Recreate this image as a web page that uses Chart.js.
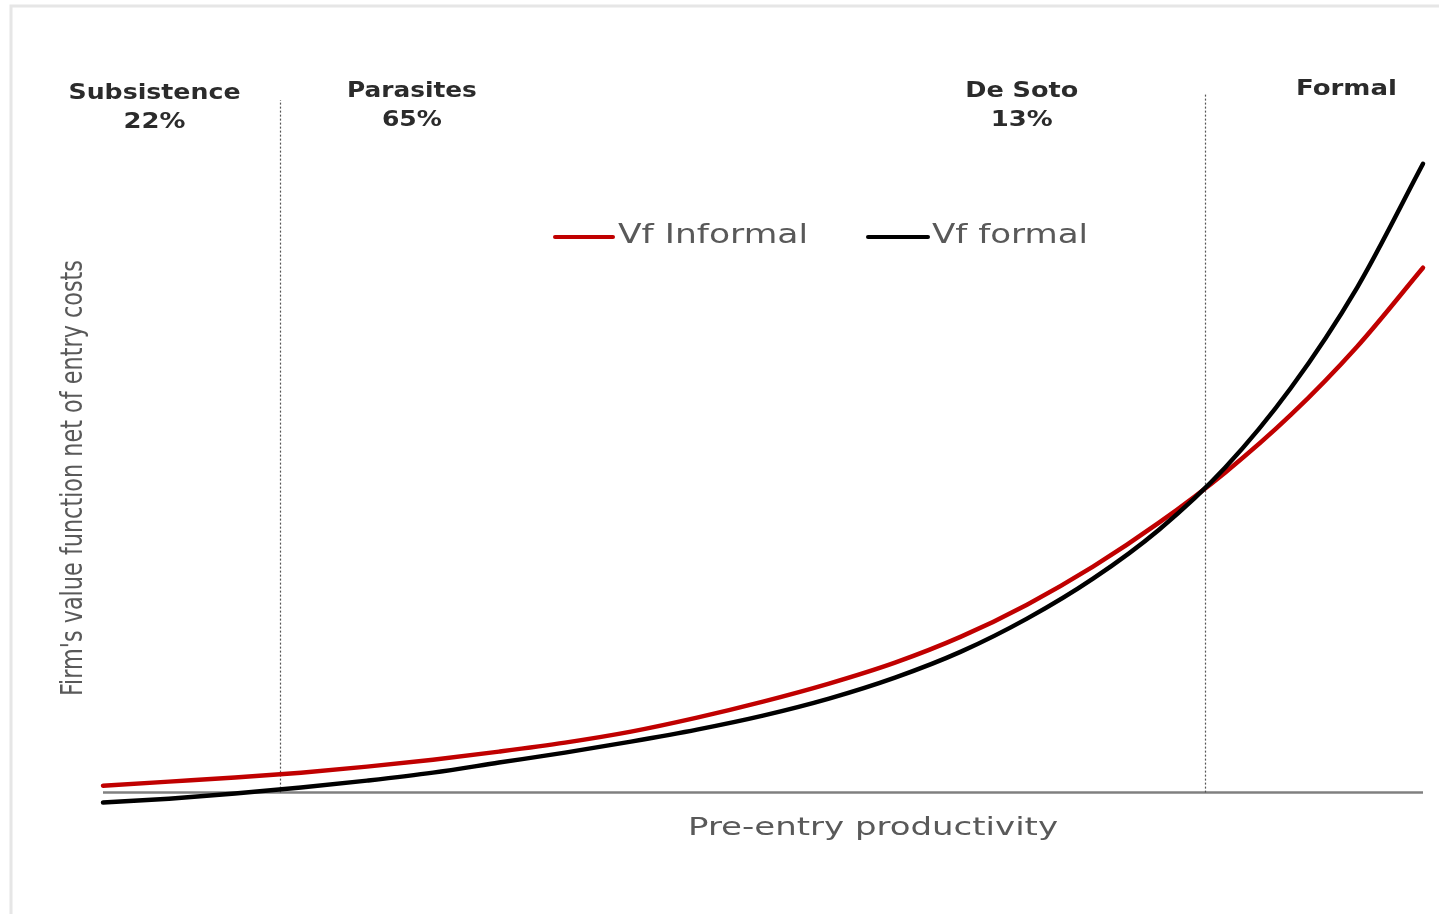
<!DOCTYPE html>
<html>
<head>
<meta charset="utf-8">
<script src="https://cdn.jsdelivr.net/npm/chart.js@4.4.1/dist/chart.umd.min.js"></script>
<style>
  html, body { margin: 0; padding: 0; background: #ffffff; }
  #wrap { position: relative; width: 1439px; height: 914px; }
</style>
</head>
<body>
<div id="wrap"><canvas id="c"></canvas></div>
<script>
// ---- Data ----
const productivity = [0, 5, 10, 15, 20, 25, 30, 35, 40, 45, 50, 55, 60, 65, 70, 75, 80, 85, 90, 95, 100];
const vfInformal   = [1.11, 1.75, 2.39, 3.18, 4.14, 5.25, 6.53, 7.96, 9.71, 11.94, 14.49, 17.36, 20.70, 24.84, 29.94, 35.99, 42.99, 50.96, 60.19, 71.02, 83.60];
const vfFormal     = [-1.59, -0.96, -0.16, 0.80, 1.91, 3.18, 4.78, 6.37, 8.12, 10.03, 12.26, 14.97, 18.31, 22.45, 27.71, 34.08, 41.88, 51.75, 64.49, 80.41, 100.16];
const seriesNames  = ["Vf Informal", "Vf formal"];
const boundaries   = [13.4, 83.5];
const regionNames  = ["Subsistence", "Parasites", "De Soto", "Formal"];
const regionShares = ["22%", "65%", "13%", ""];
const regionCenters = [3.9, 23.4, 69.6, 94.2];
const xTitle = "Pre-entry productivity";
const yTitle = "Firm's value function net of entry costs";

const toPts = (ys) => productivity.map((x, i) => ({ x: x, y: ys[i] }));

function fitText(ctx, text, x, y, width, font, color, align) {
  ctx.save();
  ctx.font = font;
  ctx.fillStyle = color;
  ctx.textBaseline = 'middle';
  const w = ctx.measureText(text).width;
  const s = width / w;
  ctx.translate(x, y);
  ctx.scale(s, 1);
  ctx.textAlign = align || 'center';
  ctx.fillText(text, 0, 0);
  ctx.restore();
}

const decor = {
  id: 'decor',
  beforeDraw(chart) {
    const ctx = chart.ctx;
    ctx.save();
    ctx.fillStyle = '#ffffff';
    ctx.fillRect(0, 0, chart.width, chart.height);
    ctx.strokeStyle = '#e6e6e6';
    ctx.lineWidth = 3;
    ctx.beginPath();
    ctx.moveTo(11, 914); ctx.lineTo(11, 6); ctx.lineTo(1439, 6);
    ctx.stroke();
    ctx.restore();
  },
  beforeDatasetsDraw(chart) {
    const ctx = chart.ctx;
    const xs = chart.scales.x, ys = chart.scales.y;
    const y0 = ys.getPixelForValue(0);
    ctx.save();
    ctx.strokeStyle = '#808080';
    ctx.lineWidth = 2.5;
    ctx.beginPath();
    ctx.moveTo(xs.left, y0); ctx.lineTo(xs.right, y0);
    ctx.stroke();
    const tops = [100, 93];
    ctx.strokeStyle = '#555555';
    ctx.lineWidth = 1.2;
    ctx.setLineDash([2, 2]);
    boundaries.forEach((b, i) => {
      const px = Math.round(xs.getPixelForValue(b)) + 0.5;
      ctx.beginPath();
      ctx.moveTo(px, y0); ctx.lineTo(px, tops[i]);
      ctx.stroke();
    });
    ctx.restore();
  },
  afterDraw(chart) {
    const ctx = chart.ctx;
    const xs = chart.scales.x;
    const nameWidths = [172, 130, 113, 101];
    const shareWidths = [62, 60, 62, 0];
    const nameY = [94, 92, 92, 90];
    regionNames.forEach((n, i) => {
      const cx = xs.getPixelForValue(regionCenters[i]);
      fitText(ctx, n, cx, nameY[i], nameWidths[i], 'bold 21px "DejaVu Sans"', '#2b2b2b');
      if (regionShares[i]) fitText(ctx, regionShares[i], cx, nameY[i] + 29, shareWidths[i], 'bold 21px "DejaVu Sans"', '#2b2b2b');
    });
    const ds = chart.data.datasets;
    const leg = [{ x0: 555, x1: 613, tx: 618, tw: 190 }, { x0: 868, x1: 928, tx: 932, tw: 156 }];
    leg.forEach((l, i) => {
      ctx.save();
      ctx.strokeStyle = ds[i].borderColor;
      ctx.lineWidth = 4;
      ctx.lineCap = 'round';
      ctx.beginPath();
      ctx.moveTo(l.x0, 237); ctx.lineTo(l.x1, 237);
      ctx.stroke();
      ctx.restore();
      fitText(ctx, ds[i].label, l.tx, 236, l.tw, '27px "DejaVu Sans"', '#595959', 'left');
    });
    fitText(ctx, xTitle, 873, 828, 370, '25px "DejaVu Sans"', '#595959');
    ctx.save();
    ctx.translate(74, 478);
    ctx.rotate(-Math.PI / 2);
    fitText(ctx, yTitle, 0, 0, 436, '30px "Liberation Sans Narrow", "DejaVu Sans Condensed", sans-serif', '#595959');
    ctx.restore();
  }
};

new Chart(document.getElementById('c'), {
  type: 'line',
  data: {
    datasets: [
      { label: seriesNames[0], data: toPts(vfInformal), borderColor: '#c00000', borderWidth: 4.5, pointRadius: 0, cubicInterpolationMode: 'monotone', fill: false, order: 1, clip: 6, borderCapStyle: 'round' },
      { label: seriesNames[1], data: toPts(vfFormal), borderColor: '#000000', borderWidth: 4.5, pointRadius: 0, cubicInterpolationMode: 'monotone', fill: false, order: 0, clip: 6, borderCapStyle: 'round' }
    ]
  },
  options: {
    responsive: true,
    maintainAspectRatio: false,
    animation: false,
    layout: { padding: { left: 103, right: 16, top: 102, bottom: 90 } },
    plugins: { legend: { display: false }, tooltip: { enabled: false }, title: { display: false } },
    scales: {
      x: { type: 'linear', min: 0, max: 100, display: false },
      y: { type: 'linear', min: -5, max: 110, display: false }
    }
  },
  plugins: [decor]
});
</script>
</body>
</html>
